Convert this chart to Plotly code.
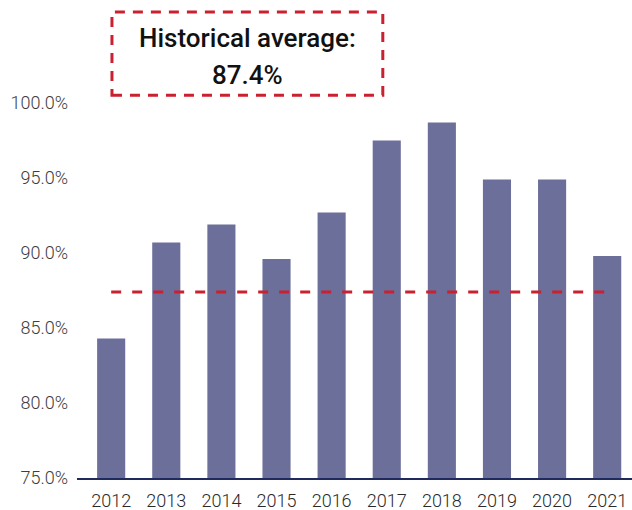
import plotly.graph_objects as go

years = ["2012", "2013", "2014", "2015", "2016", "2017", "2018", "2019", "2020", "2021"]
rates = [84.3, 90.7, 91.9, 89.6, 92.7, 97.5, 98.7, 94.9, 94.9, 89.8]
historical_avg = 87.4
y_ticks = [75, 80, 85, 90, 95, 100]

BAR = "#6C6F9A"
RED = "#C9212F"
AXIS = "#1F2A5E"
TEXT = "#3D3D3D"

fig = go.Figure()
fig.add_trace(go.Bar(x=years, y=[r - 75 for r in rates], base=75,
                     marker=dict(color=BAR, line=dict(width=0)),
                     hoverinfo="skip"))
fig.add_trace(go.Scatter(x=years, y=[historical_avg] * len(years), mode="lines",
                         line=dict(color=RED, width=3, dash="10px,11px"),
                         hoverinfo="skip"))

fig.update_layout(
    width=632, height=510,
    margin=dict(l=77, r=0, t=103, b=32),
    paper_bgcolor="white", plot_bgcolor="white",
    showlegend=False, bargap=0.49,
    font=dict(family="Roboto", size=17, color=TEXT),
    xaxis=dict(range=[-0.62, 9.45], showgrid=False, ticks="",
               showline=True, linecolor=AXIS, linewidth=1.5,
               ticklabelstandoff=6,
               tickfont=dict(family="Roboto", size=18, weight=300, color="#2A2A2A")),
    yaxis=dict(range=[75, 100], tickvals=y_ticks,
               ticktext=[f"{v:.1f}%" for v in y_ticks],
               showgrid=False, zeroline=False, showline=False, ticks="",
               ticklabelstandoff=8,
               tickfont=dict(family="Roboto", size=18, weight=300, color=TEXT)),
)

# dashed callout box above the plot
fig.add_shape(type="rect", xref="paper", yref="paper",
              x0=0.063, x1=0.551, y0=1.021, y1=1.243,
              line=dict(color=RED, width=3, dash="10px,8px"),
              fillcolor="rgba(0,0,0,0)")
fig.add_annotation(text="Historical average:", xref="paper", yref="paper",
                   x=0.307, y=(478 - 38) / 375, showarrow=False,
                   xanchor="center", yanchor="middle",
                   font=dict(family="Roboto", size=26, weight=500, color="#111111"))
fig.add_annotation(text=f"{historical_avg:.1f}%", xref="paper", yref="paper",
                   x=0.307, y=(478 - 75) / 375, showarrow=False,
                   xanchor="center", yanchor="middle",
                   font=dict(family="Roboto", size=26, weight=500, color="#111111"))

fig.write_html("out.html", config={"displayModeBar": False})
